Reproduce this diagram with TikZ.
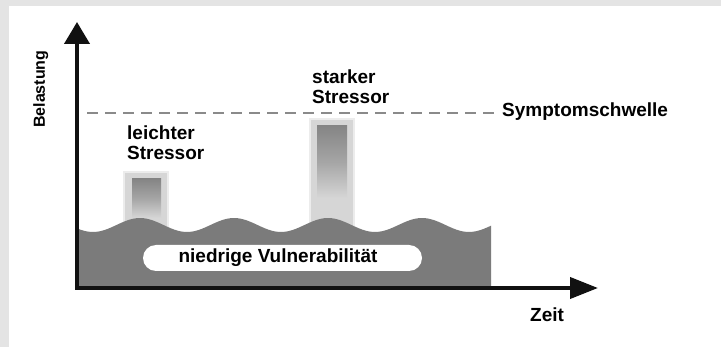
\documentclass[tikz,border=0pt]{standalone}
\usepackage{fontspec}
\setmainfont{Liberation Sans}
\usetikzlibrary{arrows.meta}
\definecolor{framegray}{HTML}{E4E4E4}
\definecolor{wavegray}{HTML}{7B7B7B}
\definecolor{barlight}{HTML}{D6D6D6}
\definecolor{barhalo}{HTML}{ECECEC}
\definecolor{bardark}{HTML}{858585}
\definecolor{dashgray}{HTML}{8A8A8A}
\definecolor{axisblack}{HTML}{111111}
\tikzset{
  lbl/.style={inner sep=0pt, anchor=base west, align=left, font=\fontsize{19}{20}\selectfont\bfseries, text=black},
  axisline/.style={line width=4pt, draw=axisblack, line join=miter},
  barouter/.style={fill=barlight, draw=none},
  barglow/.style={fill=barhalo, draw=none},
  threshold/.style={draw=dashgray, line width=1.6pt, dash pattern=on 11pt off 7pt},
}
\begin{document}
\begin{tikzpicture}[x=1pt,y=-1pt]
\useasboundingbox (0,0) rectangle (721,347);
% frame
\fill[framegray] (0,0) rectangle (721,347);
\fill[white] (9,6) rectangle (721,347);
% bars
\fill[barglow] (123,171) rectangle (169,235);
\fill[barouter] (125,173) rectangle (167,235);
\shade[top color=bardark, bottom color=barlight, middle color=bardark!60!barlight] (132,179) rectangle (161,218);
\fill[barglow] (309,118) rectangle (355,235);
\fill[barouter] (311,120) rectangle (353,235);
\shade[top color=bardark, bottom color=barlight, middle color=bardark!60!barlight] (317,126) rectangle (347,198);
% wave area
\fill[wavegray] (77,288) -- plot[domain=77:491, samples=120, smooth] (\x,{225-7*cos(3.829787*(\x-140))}) -- (491,288) -- cycle;
% pill
\node[fill=white, rounded corners=13pt, minimum width=279pt, minimum height=26pt, inner sep=0pt] (pill) at (282.5,258) {};
\node[inner sep=0pt, font=\fontsize{19}{20}\selectfont\bfseries] (vul) at (278,257.5) {niedrige Vulnerabilität};
% threshold
\coordinate (thA) at (87,113);
\coordinate (thB) at (500,113);
\draw[threshold] (thA) -- (thB);
% axes
\coordinate (ytip) at (77,22);
\coordinate (corner) at (77,288);
\coordinate (xtip) at (598,288);
\draw[axisline, {Triangle[length=22pt,width=25pt]}-{Triangle[length=28pt,width=21pt]}] (ytip) -- (corner) -- (xtip);
% labels
\node[lbl, rotate=90, font=\fontsize{16}{18}\selectfont\bfseries] (belastung) at (45,128) {Belastung};
\node[lbl] (leicht1) at (127,140) {leichter};
\node[lbl] (leicht2) at (127,160) {Stressor};
\node[lbl] (stark1) at (312,84) {starker};
\node[lbl] (stark2) at (312,104) {Stressor};
\node[lbl] (schwelle) at (502,117) {Symptomschwelle};
\node[lbl] (zeit) at (530,322) {Zeit};
\end{tikzpicture}
\end{document}
